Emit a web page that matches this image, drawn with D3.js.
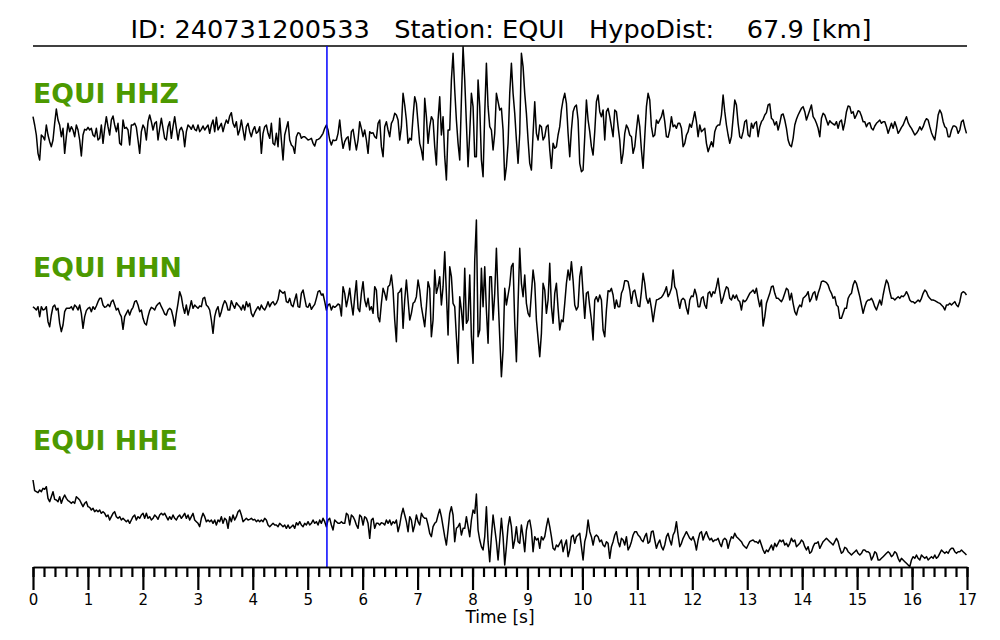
<!DOCTYPE html>
<html><head><meta charset="utf-8">
<script src="https://cdn.jsdelivr.net/npm/d3@7"></script>
<style>body{margin:0;background:#fff} svg{display:block} text{font-family:"DejaVu Sans",sans-serif}</style>
</head><body><svg id="c" width="1000" height="640"></svg>
<script>
const title = "ID: 240731200533   Station: EQUI   HypoDist:    67.9 [km]";
const channels = ["EQUI HHZ", "EQUI HHN", "EQUI HHE"];
const sampleInterval = 0.03034; // seconds between samples
const pickTime = 5.35;           // blue marker [s]
const timeTicks = d3.range(0, 18);
const minorStep = 0.2;
const xLabel = "Time [s]";

const hhz = [40,15,-15,-70,-90,-15,-20,-30,15,-15,-35,-50,-30,20,63,30,15,-20,5,-70,-20,20,-5,10,0,-20,15,0,-30,-78,-15,2,0,8,0,5,-15,-20,5,-30,-25,15,-40,5,40,10,-15,30,42,15,-5,20,-40,-45,30,5,8,0,-45,15,15,20,8,-30,-70,-5,15,5,-30,25,45,25,0,20,25,-30,5,35,5,-25,-30,10,25,-25,10,40,5,-30,0,8,-5,-50,-5,15,10,2,15,2,-2,15,-5,2,12,0,8,15,-10,15,30,-5,38,0,10,20,-5,15,30,20,42,52,20,8,25,-15,0,30,0,-30,10,20,-5,-20,0,10,-10,-5,10,-70,-10,10,15,-10,-25,20,-40,-45,-10,-50,35,-30,-90,-15,5,25,-30,-45,-50,-70,-20,-8,-10,-25,-20,-20,-25,-30,-28,-25,-40,-48,-30,-28,-25,-18,-10,5,15,0,-30,-45,-30,-32,-30,-10,
30,-20,-55,-35,-25,-20,-60,-5,2,-30,-60,-30,25,5,-20,0,-30,-70,-5,-10,-8,-20,-25,20,30,-50,-80,10,25,0,-20,20,30,50,45,30,-30,10,110,75,30,-40,-25,-30,40,100,80,20,-40,-60,-90,95,40,-40,10,40,30,-50,-105,30,100,-15,40,-80,-150,0,0,150,230,120,30,-40,-90,90,250,150,20,-110,-10,110,70,-80,-80,150,70,-90,-140,50,200,70,10,0,-60,-10,110,85,60,65,0,-150,-110,-40,110,200,110,50,-30,-100,-10,230,190,110,50,-30,-100,-120,-10,85,-10,-30,15,10,-30,-20,10,15,-60,-115,-40,-55,-50,-15,10,60,90,110,80,-10,-80,0,55,70,75,30,-100,-125,-120,-20,90,30,-5,-50,-75,-5,85,105,55,40,60,-30,55,65,40,10,-20,60,55,10,-30,-100,-70,-10,15,5,-15,-20,-70,-50,0,45,10,-60,-115,-20,70,110,
90,10,-20,-15,30,20,30,40,60,25,-20,-22,0,40,10,15,5,20,20,5,-50,-40,-15,-5,18,8,30,55,25,-20,15,-5,0,5,-40,-65,-50,-35,-50,-5,10,15,15,45,105,55,15,-15,-40,-20,35,90,75,20,-20,-25,-5,25,30,-15,-20,20,5,20,25,-20,10,25,32,45,52,75,78,35,30,15,25,0,20,45,48,30,5,-30,-45,-50,-25,15,32,45,55,65,70,55,30,45,60,75,40,32,20,5,-20,35,50,45,30,15,28,22,18,15,25,5,25,30,0,22,55,72,70,50,55,35,45,58,55,42,25,25,10,20,22,5,0,12,20,25,30,20,25,25,10,-10,5,20,5,25,10,-10,-2,8,15,28,40,22,12,5,-5,-15,-10,-2,10,0,10,25,34,30,10,-8,-20,-30,5,45,60,50,25,10,5,-20,-20,0,12,12,8,-10,0,25,30,8,-10];

const hhn = [-5,-10,-15,-5,-35,-5,-15,-13,-5,-50,-65,-30,-5,0,-15,-10,-55,-80,-60,-20,-10,-10,-10,-5,-15,0,-5,-15,0,-25,-70,-35,-17,-10,-7,-20,-5,-13,-3,10,20,20,0,-7,-5,2,-5,10,15,0,-15,-10,-25,-35,-73,-35,-25,-15,-30,-15,-7,10,13,0,-20,-15,-40,-55,-60,-35,-17,-7,-10,-15,-3,3,7,-5,-15,-27,-30,-15,-10,-15,-35,-63,-25,5,40,25,-5,-25,0,-30,-10,13,-10,0,-5,-10,-3,-5,20,23,0,-5,-15,-45,-85,-35,-15,-5,-35,-20,0,13,5,-15,-15,13,0,-10,7,0,-5,-15,0,-15,10,-5,5,-25,-35,-23,-13,-5,-15,0,-10,-15,-5,10,-5,5,10,0,5,17,45,40,35,40,10,7,20,0,-5,15,33,-5,-7,35,45,20,-5,-7,5,-13,-5,2,20,40,43,30,33,10,-15,0,3,-15,-3,-7,-3,3,
0,-33,55,35,-5,20,50,5,-30,25,73,-10,-20,35,70,15,-5,20,-15,-5,-25,55,45,-35,-50,5,50,35,15,55,60,90,45,-45,-110,35,40,50,-70,15,75,15,-45,-25,5,10,25,75,45,-5,-35,-65,-5,70,50,-95,-45,105,35,55,85,0,55,160,35,-90,115,85,5,-5,-95,-175,25,-15,-75,110,-55,-45,90,-95,-175,135,255,-95,-75,110,-5,115,-15,-115,85,85,-45,35,170,25,-95,-215,-135,50,0,30,60,115,125,-55,-170,5,170,65,25,90,5,-25,-35,35,105,65,-45,-100,-155,-85,65,45,-25,15,125,-5,-55,35,65,-10,-75,-45,-50,5,65,105,75,130,75,0,-15,-5,85,115,35,-40,35,40,-5,-45,-105,15,25,10,30,15,-75,-95,-15,43,40,50,30,-10,15,-5,-5,35,47,73,73,70,45,5,40,45,20,-3,-5,40,95,65,20,5,
20,-10,-50,-15,15,17,20,23,30,40,55,25,35,50,105,55,45,15,-10,15,20,15,-10,-27,15,27,25,47,30,-5,-5,20,25,0,-10,35,40,25,40,35,55,80,40,5,20,40,55,50,20,15,30,20,30,15,10,-15,15,10,15,25,35,40,45,35,50,20,-5,15,-63,-35,5,20,35,55,57,35,20,20,15,10,20,35,50,45,15,35,5,-20,-30,-10,0,-5,20,25,30,40,10,20,35,40,15,35,50,70,72,70,67,60,45,35,20,25,0,-5,-40,-40,-25,-10,-10,20,30,35,60,73,65,45,25,0,-25,-5,10,15,15,20,10,-5,-15,0,15,0,30,55,75,65,40,20,20,15,20,25,20,27,25,30,40,30,15,10,10,5,10,15,10,20,35,45,40,27,20,15,15,13,10,7,5,0,-5,-15,0,0,5,0,5,10,0,-5,10,35,40,37,30];

const hhe = [120,88,85,82,90,85,95,92,100,65,55,70,85,62,60,55,70,50,65,75,65,58,55,50,55,50,70,65,60,50,40,50,55,40,38,30,35,25,30,25,30,20,25,20,10,15,0,10,20,25,10,5,10,0,5,0,-5,0,-10,0,10,15,0,10,5,15,20,5,20,5,10,0,5,15,10,2,15,20,15,20,10,0,10,2,15,5,0,10,15,5,12,20,5,15,0,10,20,0,-5,-10,-20,5,20,10,-5,0,-5,0,-10,0,-15,0,-5,10,-10,5,0,-25,10,-5,15,0,10,25,30,15,-5,0,5,0,2,5,0,2,-5,0,-5,0,-5,5,0,-15,-20,-15,-10,-15,-15,-20,-10,-15,-20,-15,-25,-15,-25,-20,-15,-25,-8,-15,-5,-15,-20,-10,-15,-5,-15,-10,0,-10,-5,-15,0,-10,5,-5,-20,0,5,-15,-30,0,-5,-10,
-10,-5,-10,-10,20,15,-15,15,10,0,-15,-25,15,10,-15,10,5,-10,-55,0,5,-25,-10,-10,-15,-8,-10,-15,0,-10,0,-15,-5,-10,0,-35,-15,15,35,15,-5,-35,10,0,-35,-15,15,-5,-15,20,10,5,5,-15,-40,-50,-20,-10,-5,15,32,10,-20,-50,-75,-30,20,40,15,-65,-25,-20,-10,-45,-25,-25,10,-20,-50,0,30,20,78,-30,-60,-80,-90,-50,40,-65,-125,-50,15,-25,-65,-120,-60,5,-50,-135,-80,-20,10,-20,-85,-60,-20,-65,-70,-15,-50,-95,-30,-5,0,-30,-95,-50,-60,-55,-85,-50,-60,-50,-20,5,-20,-50,-85,-90,-75,-80,-70,-60,-95,-75,-60,-110,-90,-50,-45,-70,-50,-45,-40,-80,-120,-65,-45,0,-35,-50,-75,-50,-45,-50,-65,-60,-75,-80,-65,-70,-115,-80,-65,-45,-35,-65,-80,-55,-60,-75,-50,-90,-80,-65,-45,-35,-35,-45,-50,-60,-65,-50,-40,-70,
-65,-35,-33,-60,-85,-70,-60,-80,-90,-75,-50,-40,-60,-75,-45,-35,-5,-45,-80,-70,-55,-45,-35,-45,-55,-60,-50,-65,-90,-60,-40,-35,-60,-45,-35,-50,-60,-55,-65,-60,-60,-55,-70,-80,-60,-55,-60,-85,-65,-50,-55,-40,-50,-55,-60,-65,-75,-80,-85,-75,-65,-62,-60,-65,-65,-70,-60,-75,-90,-100,-90,-95,-85,-75,-90,-70,-80,-70,-60,-65,-60,-75,-70,-80,-70,-55,-65,-60,-80,-75,-70,-60,-65,-80,-90,-80,-100,-95,-80,-70,-70,-65,-85,-75,-65,-60,-55,-60,-65,-70,-75,-65,-55,-65,-85,-100,-95,-82,-85,-95,-100,-105,-100,-95,-90,-100,-105,-100,-90,-90,-95,-95,-100,-120,-110,-95,-100,-120,-120,-115,-110,-105,-100,-95,-100,-110,-105,-95,-100,-115,-125,-115,-120,-125,-130,-135,-140,-120,-110,-115,-105,-115,-120,-105,-110,-115,-110,-120,-115,-110,-115,-105,-115,-110,-100,-90,-95,-100,-95,-100,-90,-85,-85,-95,-100,-95,-95,-90,-95,-100,-105];

const traces = [hhz, hhn, hhe];
const centers = [130, 305, 520];
const labelY = [103, 277, 450];

const svg = d3.select("#c");
const x = d3.scaleLinear().domain([0, 17]).range([33, 967]);

svg.append("text").attr("x", 501).attr("y", 38).attr("text-anchor", "middle")
  .attr("font-size", 25.6).style("white-space", "pre").attr("fill", "#000").text(title);
svg.append("line").attr("x1", x(0)).attr("x2", x(17)).attr("y1", 46).attr("y2", 46)
  .attr("stroke", "#000").attr("stroke-width", 1.5);

traces.forEach((tr, k) => {
  const y = d3.scaleLinear().domain([-300, 300]).range([centers[k] + 100, centers[k] - 100]);
  const line = d3.line().x((d, i) => x(i * sampleInterval)).y(d => y(d));
  svg.append("path").datum(tr).attr("d", line).attr("fill", "none")
    .attr("stroke", "#000").attr("stroke-width", 1.5).attr("stroke-linejoin", "round");
  svg.append("text").attr("x", 33).attr("y", labelY[k]).attr("font-size", 26.7)
    .attr("font-weight", "bold").attr("fill", "#4c9900").text(channels[k]);
});

svg.append("line").attr("x1", x(pickTime)).attr("x2", x(pickTime)).attr("y1", 46).attr("y2", 567)
  .attr("stroke", "#0000ff").attr("stroke-width", 1.5);

const minorAxis = d3.axisBottom(x).tickValues(d3.range(0, 17.001, minorStep)).tickSize(10).tickSizeOuter(0).tickFormat("");
const gMin = svg.append("g").attr("transform", "translate(0,567)").call(minorAxis);
const majorAxis = d3.axisBottom(x).tickValues(timeTicks).tickSize(23).tickSizeOuter(0).tickPadding(4).tickFormat(d3.format("d"));
const gMaj = svg.append("g").attr("transform", "translate(0,567)").call(majorAxis);
[gMin, gMaj].forEach(g => {
  g.selectAll("line").attr("stroke", "#000").attr("stroke-width", 2.2);
  g.select(".domain").attr("stroke", "#000").attr("stroke-width", 1.5);
});
gMaj.selectAll("text").attr("font-size", 15).attr("font-family", "DejaVu Sans").attr("fill", "#000");
svg.append("text").attr("x", 500).attr("y", 623).attr("text-anchor", "middle").attr("font-size", 17).text(xLabel);
</script></body></html>
